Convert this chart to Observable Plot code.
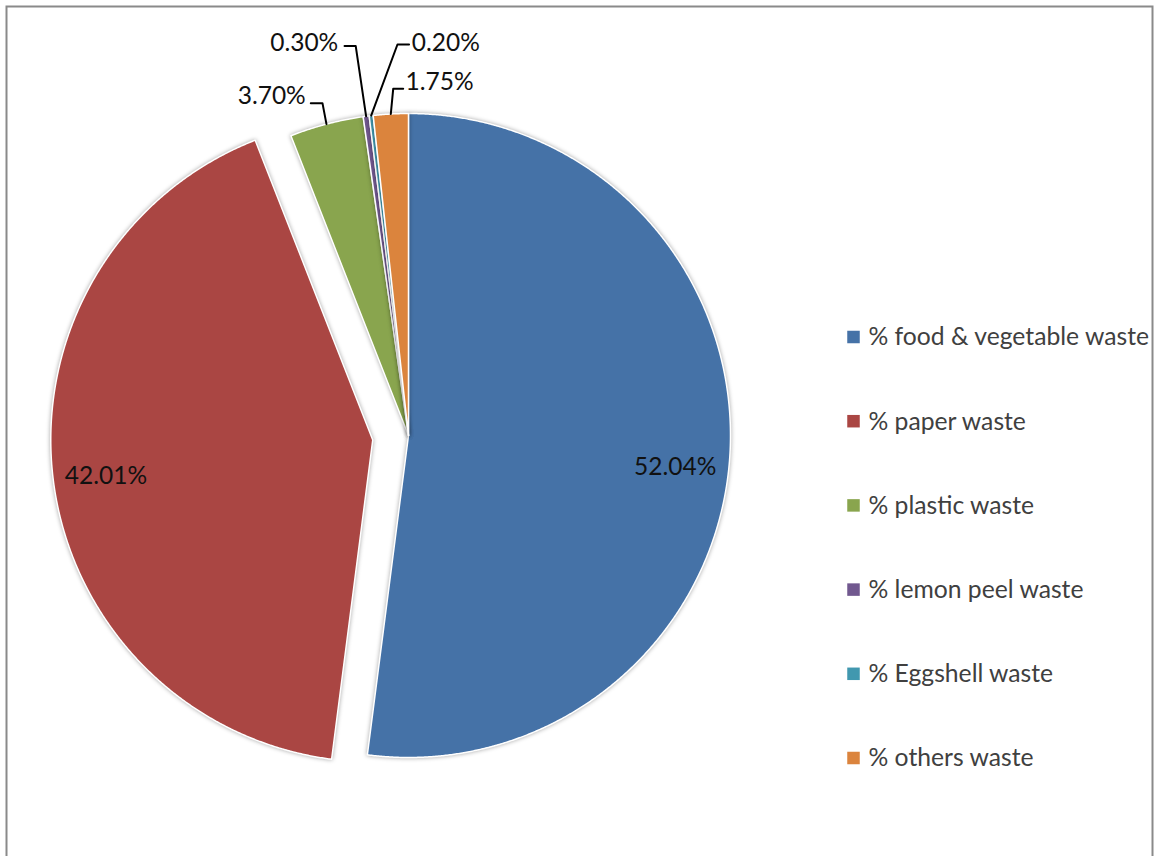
<!DOCTYPE html>
<html>
<head>
<meta charset="utf-8">
<script src="https://cdn.jsdelivr.net/npm/d3@7"></script>
<script src="https://cdn.jsdelivr.net/npm/@observablehq/plot@0.6"></script>
<style>
  html, body { margin: 0; padding: 0; background: #ffffff; }
  #chart svg { display: block; overflow: visible; }
  .slices path { filter: drop-shadow(0px 0px 2px rgba(0,0,0,0.35)); }
</style>
</head>
<body>
<div id="chart"></div>
<script>
// ---- data ----
const categories = [
  "% food & vegetable waste",
  "% paper waste",
  "% plastic waste",
  "% lemon peel waste",
  "% Eggshell waste",
  "% others waste"
];
const percents = [52.04, 42.01, 3.70, 0.30, 0.20, 1.75];
const valueLabels = ["52.04%", "42.01%", "3.70%", "0.30%", "0.20%", "1.75%"];
const colors = ["#4572A7", "#AA4643", "#89A54E", "#71588F", "#4198AF", "#DB843D"];
const explodedCategories = ["% paper waste"];

// ---- layout ----
const W = 1154, H = 856;
const CX = 408, CY = 435, R = 322, EXPLODE = 36;
const FONT = "Lato, 'DejaVu Sans', sans-serif";
const FS_LABEL = 24.5, FS_LEGEND = 24.7;
const legendLayout = {boxX: 853.5, box: 12.5, textX: 868, y0: 337, step: 84.2};
// label placement: inside labels by radius fraction + nudge; outside labels relative to arc anchor
const labelLayout = [
  {inside: true, rf: 0.83, dx: 0, dy: 15},
  {inside: true, rf: 0.835, dx: 0, dy: 3},
  {inside: false, text: [-20.7, -27.7], anchor: "end", elbow: [-4, -21], end: [-15.7, -21]},
  {inside: false, text: [-27.9, -73.4], anchor: "end", elbow: [-10.4, -70.2], end: [-21.6, -70.2]},
  {inside: false, text: [40.6, -72.7], anchor: "start", elbow: [26.3, -71.2], end: [37.9, -71.2]},
  {inside: false, text: [14.7, -31.8], anchor: "start", elbow: [2.4, -25.2], end: [12.4, -25.2]}
];

// ---- geometry from data ----
const rows = categories.map((c, i) => ({cat: c, value: percents[i], label: valueLabels[i], i}));
const arcs = d3.pie().sort(null).value(d => d.value)(rows);

const slicePts = [];
const labelPts = [];
const leaderPts = [];
arcs.forEach(p => {
  const d = p.data;
  const mid = (p.startAngle + p.endAngle) / 2;
  const off = explodedCategories.includes(d.cat) ? EXPLODE : 0;
  const cx = CX + off * Math.sin(mid), cy = CY - off * Math.cos(mid);
  slicePts.push({cat: d.cat, x: cx, y: cy});
  const n = Math.max(2, Math.ceil((p.endAngle - p.startAngle) / (Math.PI / 720)));
  for (let k = 0; k <= n; k++) {
    const a = p.startAngle + (p.endAngle - p.startAngle) * k / n;
    slicePts.push({cat: d.cat, x: cx + R * Math.sin(a), y: cy - R * Math.cos(a)});
  }
  slicePts.push({cat: d.cat, x: cx, y: cy});

  const L = labelLayout[d.i];
  if (L.inside) {
    labelPts.push({label: d.label, x: cx + L.rf * R * Math.sin(mid) + L.dx, y: cy - L.rf * R * Math.cos(mid) + L.dy, anchor: "middle"});
  } else {
    const ax = cx + R * Math.sin(mid), ay = cy - R * Math.cos(mid);
    labelPts.push({label: d.label, x: ax + L.text[0], y: ay + L.text[1], anchor: L.anchor});
    leaderPts.push({cat: d.cat, x: ax, y: ay});
    leaderPts.push({cat: d.cat, x: ax + L.elbow[0], y: ay + L.elbow[1]});
    leaderPts.push({cat: d.cat, x: ax + L.end[0], y: ay + L.end[1]});
  }
});

const legendRows = categories.map((c, i) => ({
  cat: c,
  y: legendLayout.y0 + i * legendLayout.step
}));

const labelMark = anchor => Plot.text(labelPts.filter(d => d.anchor === anchor), {
  x: "x", y: "y", text: "label", textAnchor: anchor,
  fontSize: FS_LABEL, fill: "#111"
});

const chart = Plot.plot({
  width: W,
  height: H,
  margin: 0,
  style: {fontFamily: FONT, background: "white"},
  x: {domain: [0, W], range: [0, W], axis: null},
  y: {domain: [0, H], range: [0, H], axis: null},
  color: {domain: categories, range: colors},
  marks: [
    Plot.frame({stroke: "#8a8a8a", strokeWidth: 2, insetLeft: 6, insetTop: 6, insetRight: 2, insetBottom: -10}),
    Plot.line(slicePts, {
      x: "x", y: "y", z: "cat", fill: "cat",
      stroke: "white", strokeWidth: 1.5, strokeLinejoin: "round",
      className: "slices"
    }),
    Plot.line(leaderPts, {x: "x", y: "y", z: "cat", stroke: "#000", strokeWidth: 2, curve: "linear"}),
    labelMark("middle"),
    labelMark("start"),
    labelMark("end"),
    Plot.rect(legendRows, {
      x1: () => legendLayout.boxX - legendLayout.box / 2,
      x2: () => legendLayout.boxX + legendLayout.box / 2,
      y1: d => d.y - legendLayout.box / 2,
      y2: d => d.y + legendLayout.box / 2,
      fill: "cat"
    }),
    Plot.text(legendRows, {
      x: () => legendLayout.textX, y: "y", text: "cat",
      textAnchor: "start", fontSize: FS_LEGEND, fill: "#404040"
    })
  ]
});
document.getElementById("chart").appendChild(chart);
</script>
</body>
</html>
